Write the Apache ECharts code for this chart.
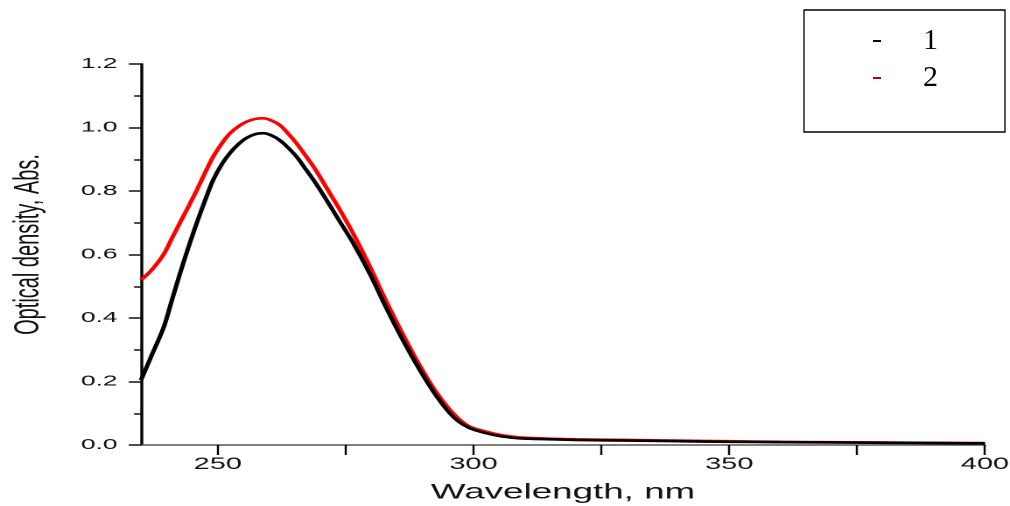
<!DOCTYPE html>
<html>
<head>
<meta charset="utf-8">
<script src="https://cdn.jsdelivr.net/npm/echarts@6/dist/echarts.min.js"></script>
<style>
html,body{margin:0;padding:0;background:#fff;overflow:hidden;}
#wrap{position:relative;width:1010px;height:506px;}
#chart{position:absolute;left:0;top:0;width:577px;height:506px;transform:scaleX(1.75043);transform-origin:0 0;}
#legendLayer{position:absolute;left:0;top:0;width:1010px;height:506px;pointer-events:none;}
</style>
</head>
<body>
<div id="wrap"><div id="chart"></div><div id="legendLayer"></div></div>
<script>
const wavelengths = [235,237,239.4,241,242.6,244.3,245.9,247.5,249.1,250.8,252.4,254,255.6,257.3,258.9,260.5,262.1,263.7,265.4,267,268.7,270.3,271.9,274,276.4,279.7,283,286.2,289.5,292.7,296,299,302.5,305.5,309,315,320,330,340,350,360,370,380,390,400];
const series1 = [0.205,0.28,0.37,0.455,0.54,0.625,0.70,0.77,0.835,0.885,0.92,0.947,0.967,0.979,0.982,0.975,0.96,0.937,0.908,0.873,0.835,0.796,0.755,0.70,0.638,0.54,0.43,0.33,0.236,0.155,0.089,0.055,0.037,0.027,0.021,0.018,0.016,0.014,0.012,0.010,0.009,0.008,0.007,0.006,0.005];
const series2 = [0.52,0.55,0.60,0.65,0.70,0.752,0.803,0.857,0.908,0.95,0.982,1.003,1.018,1.027,1.029,1.022,1.008,0.982,0.95,0.915,0.877,0.836,0.793,0.737,0.668,0.563,0.45,0.348,0.25,0.167,0.10,0.06,0.042,0.031,0.024,0.020,0.018,0.016,0.014,0.012,0.010,0.009,0.008,0.007,0.006];
const xLabelValues = [250,300,350,400];
const xTickValues = [250,275,300,325,350,375,400];
const seriesNames = ['1','2'];
const seriesColors = ['#000000','#ff0000'];
const legendColors = ['#000000','#c00000'];

const pair = (xs, ys) => xs.map((x,i)=>[x, ys[i]]);

// main plot (drawn horizontally stretched like the reference figure)
const chart = echarts.init(document.getElementById('chart'), null, {renderer:'canvas', devicePixelRatio:2});
chart.setOption({
  animation:false,
  backgroundColor:'#fff',
  grid:{left:80.6,right:14.3,top:64,bottom:61,outerBoundsMode:'none',containLabel:false},
  xAxis:{
    type:'value', min:235, max:400,
    name:'Wavelength, nm', nameLocation:'middle', nameGap:37,
    nameTextStyle:{fontFamily:'Liberation Sans', fontSize:21, color:'#111'},
    axisLine:{show:true, onZero:false, lineStyle:{color:'#555', width:1.6}},
    axisTick:{show:true, length:10, customValues:xTickValues, lineStyle:{color:'#000', width:1.2}},
    axisLabel:{customValues:xLabelValues, margin:11, fontFamily:'Liberation Sans', fontSize:16.5, color:'#111'},
    splitLine:{show:false}
  },
  yAxis:{
    type:'value', min:0, max:1.2, interval:0.2,
    name:'Optical density, Abs.', nameLocation:'middle', nameGap:54,
    nameTextStyle:{fontFamily:'Liberation Sans', fontSize:20, color:'#111', padding:[0,0,0,20]},
    axisLine:{show:true, lineStyle:{color:'#000', width:1.7}},
    axisTick:{show:true, length:7, lineStyle:{color:'#111', width:1.5}},
    minorTick:{show:true, splitNumber:2, length:4, lineStyle:{color:'#111', width:1.5}},
    axisLabel:{margin:13.5, fontFamily:'Liberation Sans', fontSize:15, color:'#111', formatter:v=>v.toFixed(1)},
    splitLine:{show:false}
  },
  series:[
    {name:seriesNames[0], type:'line', data:pair(wavelengths, series1), smooth:0.35, showSymbol:false, lineStyle:{color:seriesColors[0], width:2.6}, z:3},
    {name:seriesNames[1], type:'line', data:pair(wavelengths, series2), smooth:0.35, showSymbol:false, lineStyle:{color:seriesColors[1], width:2.6}, z:2}
  ]
});

// legend layer (not stretched)
const legendChart = echarts.init(document.getElementById('legendLayer'), null, {renderer:'canvas'});
legendChart.setOption({
  animation:false,
  grid:{show:false},
  xAxis:{show:false, type:'value'},
  yAxis:{show:false, type:'value'},
  legend:{
    left:804, top:10, orient:'vertical',
    icon:'rect', itemWidth:8, itemHeight:2, itemGap:7,
    padding:[16,67,39,69],
    borderColor:'#000', borderWidth:1.3, backgroundColor:'#fff',
    textStyle:{fontFamily:'Liberation Serif', fontSize:30, color:'#000', padding:[0,0,0,37]},
    data:seriesNames.map((n,i)=>({name:n, itemStyle:{color:legendColors[i]}}))
  },
  series:seriesNames.map((n,i)=>({name:n, type:'line', data:[], itemStyle:{color:legendColors[i]}}))
});
</script>
</body>
</html>
